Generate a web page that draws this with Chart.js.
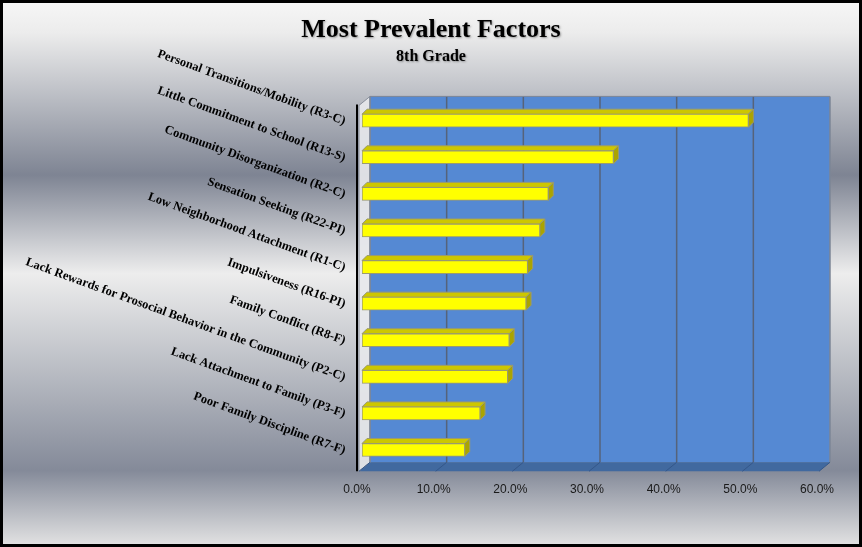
<!DOCTYPE html>
<html>
<head>
<meta charset="utf-8">
<script src="https://cdn.jsdelivr.net/npm/chart.js@4.4.1/dist/chart.umd.min.js"></script>
<style>
  html, body { margin: 0; padding: 0; background: #fff; }
  canvas { display: block; }
</style>
</head>
<body>
<canvas id="factorsChart" width="862" height="547"></canvas>
<script>
// risk factors, 8th grade, percent of students
const categories = [
  'Personal Transitions/Mobility (R3-C)',
  'Little Commitment to School (R13-S)',
  'Community Disorganization (R2-C)',
  'Sensation Seeking (R22-PI)',
  'Low Neighborhood Attachment (R1-C)',
  'Impulsiveness (R16-PI)',
  'Family Conflict (R8-F)',
  'Lack Rewards for Prosocial Behavior in the Community (P2-C)',
  'Lack Attachment to Family (P3-F)',
  'Poor Family Discipline (R7-F)'
];
const values = [50.4, 32.8, 24.3, 23.2, 21.6, 21.4, 19.2, 19.0, 15.4, 13.4];
const xMax = 60;
const xStep = 10;

const titleText = 'Most Prevalent Factors';
const subtitleText = '8th Grade';

// offsets of the back wall / front edge relative to the bar plane
const BACK = { dx: 8, dy: -6 };
const FRONT = { dx: -3, dy: 3 };
const BAR_DEPTH = 5;

const frame3d = {
  id: 'frame3d',
  beforeDraw(chart) {
    const { ctx, width, height } = chart;
    const g = ctx.createLinearGradient(0, 0, 0, height);
    g.addColorStop(0, '#f7f7f7');
    g.addColorStop(0.06, '#ececec');
    g.addColorStop(0.32, '#7e8493');
    g.addColorStop(0.5, '#ededed');
    g.addColorStop(0.86, '#848a99');
    g.addColorStop(1, '#e4e4e4');
    ctx.save();
    ctx.fillStyle = g;
    ctx.fillRect(0, 0, width, height);

    // title + subtitle
    ctx.textAlign = 'center';
    ctx.textBaseline = 'alphabetic';
    ctx.fillStyle = '#000';
    ctx.shadowColor = 'rgba(0,0,0,0.35)';
    ctx.shadowOffsetX = 1;
    ctx.shadowOffsetY = 1;
    ctx.shadowBlur = 2;
    ctx.font = 'bold 26px "Liberation Serif", "Times New Roman", serif';
    ctx.fillText(titleText, width / 2, 37);
    ctx.font = 'bold 16px "Liberation Serif", "Times New Roman", serif';
    ctx.fillText(subtitleText, width / 2, 61);
    ctx.restore();
  },
  beforeDatasetsDraw(chart) {
    const { ctx, chartArea: a, scales: { x } } = chart;
    const bl = a.left + BACK.dx, br = a.right + BACK.dx;
    const bt = a.top + BACK.dy, bb = a.bottom + BACK.dy;
    const fl = a.left + FRONT.dx, fr = a.right + FRONT.dx;
    const ft = a.top + FRONT.dy, fb = a.bottom + FRONT.dy;
    ctx.save();

    // back wall
    ctx.fillStyle = '#5589d3';
    ctx.fillRect(bl, bt, br - bl, bb - bt);

    // floor
    ctx.fillStyle = '#41699f';
    ctx.beginPath();
    ctx.moveTo(bl, bb); ctx.lineTo(br, bb); ctx.lineTo(fr, fb); ctx.lineTo(fl, fb);
    ctx.closePath();
    ctx.fill();

    // side wall
    ctx.fillStyle = 'rgba(232,233,236,0.9)';
    ctx.beginPath();
    ctx.moveTo(fl, ft); ctx.lineTo(bl, bt); ctx.lineTo(bl, bb); ctx.lineTo(fl, fb);
    ctx.closePath();
    ctx.fill();
    ctx.strokeStyle = '#8a909c';
    ctx.lineWidth = 1;
    ctx.stroke();

    // grid lines on back wall and floor
    for (let v = 0; v <= xMax; v += xStep) {
      const px = x.getPixelForValue(v);
      ctx.strokeStyle = (v === 0 || v === xMax) ? '#7d8696' : '#56637a';
      ctx.lineWidth = 1.5;
      ctx.beginPath();
      ctx.moveTo(px + BACK.dx, bt);
      ctx.lineTo(px + BACK.dx, bb);
      ctx.stroke();
      ctx.strokeStyle = '#34578a';
      ctx.lineWidth = 1;
      ctx.beginPath();
      ctx.moveTo(px + BACK.dx, bb);
      ctx.lineTo(px + FRONT.dx, fb);
      ctx.stroke();
    }
    ctx.strokeStyle = '#7d8696';
    ctx.lineWidth = 1;
    ctx.beginPath();
    ctx.moveTo(bl, bt); ctx.lineTo(br, bt);
    ctx.stroke();

    // category axis line
    ctx.strokeStyle = '#000';
    ctx.lineWidth = 2;
    ctx.beginPath();
    ctx.moveTo(fl - 2, ft - 1);
    ctx.lineTo(fl - 2, fb);
    ctx.stroke();

    // top and end faces of the bars
    const meta = chart.getDatasetMeta(0);
    meta.data.forEach(bar => {
      const top = bar.y - bar.height / 2, bottom = bar.y + bar.height / 2;
      const left = bar.base, right = bar.x, d = BAR_DEPTH;
      ctx.lineWidth = 1;
      ctx.strokeStyle = '#9a9a70';
      ctx.fillStyle = '#cdc700';
      ctx.beginPath();
      ctx.moveTo(left, top); ctx.lineTo(left + d, top - d);
      ctx.lineTo(right + d, top - d); ctx.lineTo(right, top);
      ctx.closePath();
      ctx.fill(); ctx.stroke();
      ctx.fillStyle = '#aaa400';
      ctx.beginPath();
      ctx.moveTo(right, top); ctx.lineTo(right + d, top - d);
      ctx.lineTo(right + d, bottom - d); ctx.lineTo(right, bottom);
      ctx.closePath();
      ctx.fill(); ctx.stroke();
    });
    ctx.restore();
  },
  afterDraw(chart) {
    const { ctx, width, height, scales: { y } } = chart;
    ctx.save();
    // slanted category labels
    ctx.fillStyle = '#000';
    ctx.font = 'bold 12.5px "Liberation Serif", "Times New Roman", serif';
    ctx.textAlign = 'right';
    ctx.textBaseline = 'middle';
    categories.forEach((label, i) => {
      ctx.save();
      ctx.translate(345, y.getPixelForValue(i) + 1);
      ctx.rotate(20 * Math.PI / 180);
      ctx.fillText(label, 0, 0);
      ctx.restore();
    });
    // outer frame
    ctx.strokeStyle = '#000';
    ctx.lineWidth = 3;
    ctx.strokeRect(1.5, 1.5, width - 3, height - 3);
    ctx.restore();
  }
};

new Chart(document.getElementById('factorsChart').getContext('2d'), {
  type: 'bar',
  data: {
    labels: categories,
    datasets: [{
      data: values,
      backgroundColor: '#ffff00',
      borderColor: '#9a9a70',
      borderWidth: 1,
      borderSkipped: false,
      barThickness: 13
    }]
  },
  options: {
    indexAxis: 'y',
    responsive: false,
    animation: false,
    layout: { padding: { left: 362, right: 40, top: 102.4, bottom: 48.7 } },
    plugins: {
      legend: { display: false },
      tooltip: { enabled: false }
    },
    scales: {
      x: {
        min: 0,
        max: xMax,
        grid: { display: false, drawTicks: false },
        border: { display: false },
        ticks: {
          stepSize: xStep,
          padding: 14,
          labelOffset: -5,
          color: '#1a1a1a',
          font: { family: '"Liberation Sans", Arial, sans-serif', size: 12 },
          callback: v => v.toFixed(1) + '%'
        },
        afterFit: s => { s.height = 30; }
      },
      y: { display: false }
    }
  },
  plugins: [frame3d]
});
</script>
</body>
</html>
